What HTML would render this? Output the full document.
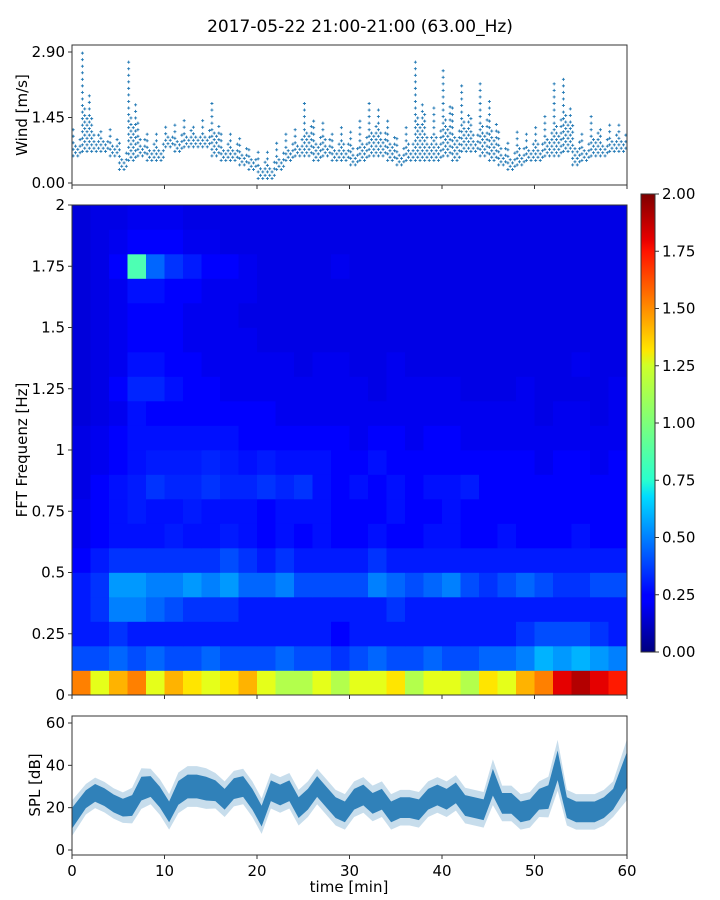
<!DOCTYPE html>
<html><head><meta charset="utf-8">
<style>
body{margin:0;background:#fff;}
svg{display:block;font-family:"DejaVu Sans","Liberation Sans",sans-serif;}
</style></head>
<body>
<svg id="c" width="720" height="900" viewBox="0 0 720 900">
<defs>
<linearGradient id="jet" x1="0" y1="1" x2="0" y2="0">
<stop offset="0" stop-color="#00007f"/><stop offset="0.11" stop-color="#0000ff"/><stop offset="0.125" stop-color="#0000ff"/>
<stop offset="0.34" stop-color="#00dcff"/><stop offset="0.375" stop-color="#29ffce"/><stop offset="0.5" stop-color="#7dff7a"/>
<stop offset="0.625" stop-color="#ceff29"/><stop offset="0.66" stop-color="#ffe500"/><stop offset="0.875" stop-color="#ff1300"/>
<stop offset="0.9" stop-color="#e80000"/><stop offset="1" stop-color="#7f0000"/>
</linearGradient>
</defs>
<text x="360" y="32" text-anchor="middle" font-size="17">2017-05-22 21:00-21:00 (63.00_Hz)</text>
<g id="g"></g>
</svg>
<script>
// ---- data ----
const windMin=[0.6,0.7,0.7,0.7,0.6,0.3,0.5,0.6,0.5,0.5,0.8,0.7,0.8,0.8,0.8,0.6,0.5,0.5,0.4,0.3,0.1,0.1,0.3,0.5,0.6,0.6,0.5,0.6,0.5,0.5,0.4,0.5,0.6,0.6,0.5,0.4,0.5,0.5,0.5,0.5,0.6,0.5,0.7,0.7,0.6,0.5,0.4,0.3,0.4,0.5,0.5,0.6,0.6,0.7,0.4,0.5,0.6,0.6,0.7,0.7];
const windMax=[1.2,2.9,1.5,1.2,1.3,0.9,2.8,1.4,1.1,1.1,1.3,1.4,1.4,1.3,1.4,1.9,1.2,1.1,1.0,0.8,0.7,0.7,1.0,1.1,1.2,1.9,1.4,1.4,1.2,1.3,1.2,1.5,1.9,1.7,1.5,1.1,1.3,2.7,1.6,1.7,2.6,1.8,2.2,1.5,2.2,1.9,1.2,1.0,1.2,1.2,1.3,1.5,2.2,2.4,1.3,1.2,1.5,1.3,1.4,1.3];
const splMean=[15,24,27,25,22,20,21,29,30,25,18,27,30,30,29,28,24,29,30,24,16,28,26,28,20,24,30,25,20,18,24,26,22,24,18,20,20,19,24,26,24,27,21,20,19,32,22,22,18,19,24,25,40,20,18,18,18,20,24,38];
const splSpread=[7,6,6,6,6,6,7,8,7,7,7,8,8,8,8,7,7,7,7,7,7,7,7,7,7,7,7,7,7,7,7,7,7,7,7,7,7,7,7,7,7,7,7,7,7,9,7,7,7,7,7,8,10,7,7,7,7,7,7,12];
const specRows=[
[1.5,1.2,1.4,1.5,1.2,1.4,1.3,1.2,1.3,1.4,1.2,1.1,1.1,1.2,1.1,1.2,1.2,1.3,1.1,1.2,1.2,1.1,1.3,1.2,1.4,1.5,1.8,1.9,1.8,1.7],
[0.4,0.4,0.45,0.4,0.45,0.4,0.4,0.45,0.4,0.4,0.4,0.45,0.4,0.4,0.35,0.4,0.45,0.4,0.4,0.45,0.4,0.4,0.45,0.45,0.5,0.6,0.55,0.6,0.55,0.5],
[0.3,0.3,0.35,0.3,0.3,0.3,0.3,0.3,0.3,0.3,0.3,0.3,0.3,0.3,0.25,0.3,0.3,0.3,0.3,0.3,0.3,0.3,0.3,0.3,0.35,0.4,0.4,0.4,0.35,0.3],
[0.3,0.35,0.5,0.5,0.45,0.4,0.35,0.35,0.35,0.3,0.3,0.3,0.3,0.3,0.3,0.3,0.3,0.35,0.3,0.3,0.3,0.3,0.3,0.3,0.3,0.3,0.3,0.3,0.3,0.3],
[0.3,0.35,0.55,0.55,0.5,0.5,0.55,0.5,0.55,0.45,0.45,0.5,0.4,0.4,0.4,0.4,0.5,0.45,0.4,0.45,0.5,0.4,0.35,0.4,0.45,0.4,0.35,0.35,0.4,0.4],
[0.25,0.3,0.35,0.35,0.35,0.35,0.35,0.35,0.4,0.35,0.3,0.35,0.3,0.3,0.3,0.3,0.35,0.3,0.3,0.3,0.3,0.3,0.3,0.3,0.3,0.3,0.3,0.3,0.3,0.3],
[0.22,0.25,0.28,0.28,0.28,0.3,0.28,0.28,0.3,0.28,0.25,0.28,0.25,0.28,0.25,0.25,0.28,0.25,0.25,0.28,0.28,0.25,0.25,0.28,0.25,0.25,0.25,0.28,0.25,0.25],
[0.22,0.25,0.28,0.3,0.28,0.28,0.3,0.28,0.28,0.28,0.25,0.28,0.28,0.28,0.25,0.25,0.25,0.28,0.25,0.25,0.28,0.25,0.25,0.25,0.25,0.25,0.25,0.25,0.25,0.25],
[0.2,0.25,0.28,0.3,0.35,0.32,0.32,0.35,0.32,0.32,0.35,0.32,0.35,0.28,0.25,0.28,0.25,0.28,0.25,0.28,0.28,0.3,0.25,0.25,0.25,0.25,0.25,0.25,0.25,0.25],
[0.2,0.22,0.25,0.28,0.3,0.3,0.3,0.32,0.3,0.28,0.3,0.28,0.28,0.28,0.25,0.25,0.28,0.25,0.25,0.25,0.25,0.25,0.25,0.25,0.25,0.22,0.25,0.25,0.22,0.25],
[0.2,0.22,0.25,0.28,0.28,0.28,0.28,0.28,0.28,0.25,0.25,0.25,0.25,0.25,0.25,0.22,0.25,0.25,0.22,0.25,0.25,0.22,0.22,0.22,0.22,0.22,0.22,0.22,0.22,0.22],
[0.18,0.2,0.22,0.28,0.25,0.25,0.25,0.25,0.25,0.25,0.25,0.22,0.22,0.22,0.22,0.22,0.22,0.22,0.22,0.22,0.22,0.22,0.22,0.22,0.22,0.2,0.22,0.22,0.2,0.22],
[0.18,0.2,0.25,0.32,0.32,0.28,0.25,0.25,0.22,0.22,0.22,0.22,0.22,0.22,0.22,0.22,0.2,0.22,0.22,0.22,0.22,0.2,0.2,0.2,0.22,0.2,0.2,0.2,0.2,0.22],
[0.18,0.2,0.22,0.28,0.28,0.25,0.25,0.22,0.22,0.22,0.22,0.22,0.2,0.22,0.22,0.2,0.2,0.22,0.2,0.2,0.2,0.2,0.2,0.2,0.2,0.2,0.2,0.22,0.2,0.2],
[0.18,0.2,0.22,0.25,0.25,0.25,0.22,0.22,0.22,0.22,0.2,0.2,0.2,0.2,0.2,0.2,0.2,0.2,0.2,0.2,0.2,0.2,0.2,0.2,0.2,0.2,0.2,0.2,0.2,0.2],
[0.18,0.2,0.22,0.25,0.25,0.25,0.22,0.22,0.22,0.2,0.2,0.2,0.2,0.2,0.2,0.2,0.2,0.2,0.2,0.2,0.2,0.2,0.2,0.2,0.2,0.2,0.2,0.2,0.2,0.2],
[0.18,0.2,0.22,0.28,0.28,0.25,0.25,0.22,0.22,0.22,0.2,0.2,0.2,0.2,0.2,0.2,0.2,0.2,0.2,0.2,0.2,0.2,0.2,0.2,0.2,0.2,0.2,0.2,0.2,0.2],
[0.18,0.2,0.25,0.9,0.45,0.35,0.3,0.25,0.25,0.22,0.2,0.2,0.2,0.2,0.22,0.2,0.2,0.2,0.2,0.2,0.2,0.2,0.2,0.2,0.2,0.2,0.2,0.2,0.2,0.2],
[0.18,0.2,0.22,0.25,0.25,0.25,0.22,0.22,0.2,0.2,0.2,0.2,0.2,0.2,0.2,0.2,0.2,0.2,0.2,0.2,0.2,0.2,0.2,0.2,0.2,0.2,0.2,0.2,0.2,0.2],
[0.18,0.2,0.2,0.22,0.22,0.22,0.2,0.2,0.2,0.2,0.2,0.2,0.2,0.2,0.2,0.2,0.2,0.2,0.2,0.2,0.2,0.2,0.2,0.2,0.2,0.2,0.2,0.2,0.2,0.2]];
const xTicks=[0,10,20,30,40,50,60];
const windTicks=["0.00","1.45","2.90"];
const freqTicks=["0","0.25","0.5","0.75","1","1.25","1.5","1.75","2"];
const cbTicks=["0.00","0.25","0.50","0.75","1.00","1.25","1.50","1.75","2.00"];
const splTicks=[0,20,40,60];

// ---- helpers ----
const NS="http://www.w3.org/2000/svg";
const G=document.getElementById('g');
function el(tag,attrs,parent){const e=document.createElementNS(NS,tag);for(const k in attrs)e.setAttribute(k,attrs[k]);(parent||G).appendChild(e);return e;}
const X0=72,X1=627;
const sx=t=>X0+(X1-X0)*t/60;
const wy=v=>183-v*(131/2.9);
const fy=f=>695-f*245;
const py=v=>850-v*(127/60);
function jet(v){const t=Math.max(0,Math.min(1,v/2));
 const c=x=>Math.max(0,Math.min(1,x));
 const r=c(1.5-Math.abs(4*t-3)),g=c(1.5-Math.abs(4*t-2)),b=c(1.5-Math.abs(4*t-1));
 return `rgb(${Math.round(r*255)},${Math.round(g*255)},${Math.round(b*255)})`;}
function txt(x,y,s,anchor,name,size){const t=el('text',{x:x,y:y,'text-anchor':anchor||'middle','font-size':size||15,fill:'#000'});t.textContent=s;
 
 
 return t;}

// ---- wind panel ----
const wind=el('g',{});


const reach=[1,0.45,0.35,0.55];
for(let m=0;m<60;m++){
 for(let s=0;s<4;s++){
  const t=m+(s+0.5)/4;
  const lo=windMin[m]+(s%2)*0.07;
  const hi=lo+(windMax[m]-lo)*reach[s];
  for(let v=lo;v<=hi+0.001;v+=0.145){
   const x=sx(t),y=wy(v);
   const p=el('path',{d:`M${x-1.5},${y}h3M${x},${y-1.5}v3`,stroke:'#1f77b4','stroke-width':0.9},wind);
   
   
  }
 }
}
const wf=el('rect',{x:X0,y:45,width:X1-X0,height:140,fill:'none',stroke:'#333','stroke-width':1});


windTicks.forEach(s=>{const y=wy(parseFloat(s));el('line',{x1:X0-4,x2:X0,y1:y,y2:y,stroke:'#333'});txt(X0-7,y+5,s,'end','wind-y-tick');});
xTicks.forEach(t=>el('line',{x1:sx(t),x2:sx(t),y1:185,y2:189,stroke:'#333'}));
const wl=txt(0,0,'Wind [m/s]','middle','wind-y-axis-title');wl.setAttribute('transform','translate(27,115) rotate(-90)');

// ---- spectrogram ----
const spec=el('g',{});


const nC=specRows[0].length, nR=specRows.length;
specRows.forEach((row,ri)=>{
 row.forEach((v,ci)=>{
  const x=sx(ci*60/nC), w=sx((ci+1)*60/nC)-x;
  const y=fy((ri+1)*2/nR), h=fy(ri*2/nR)-y;
  const r=el('rect',{x:x,y:y,width:w+0.3,height:h+0.3,fill:jet(v)},spec);
  
  
 });
});
const sf=el('rect',{x:X0,y:205,width:X1-X0,height:490,fill:'none',stroke:'#333'});


freqTicks.forEach(s=>{const y=fy(parseFloat(s));el('line',{x1:X0-4,x2:X0,y1:y,y2:y,stroke:'#333'});txt(X0-7,y+5,s,'end','freq-y-tick');});
xTicks.forEach(t=>el('line',{x1:sx(t),x2:sx(t),y1:695,y2:699,stroke:'#333'}));
const fl=txt(0,0,'FFT Frequenz [Hz]','middle','freq-y-axis-title');fl.setAttribute('transform','translate(27,450) rotate(-90)');

// ---- colorbar ----
const cb=el('rect',{x:641,y:194,width:14,height:458,fill:'url(#jet)',stroke:'#333'});


cbTicks.forEach(s=>{const y=652-parseFloat(s)/2*458;el('line',{x1:655,x2:659,y1:y,y2:y,stroke:'#333'});txt(662,y+5,s,'start','colorbar-tick');});

// ---- SPL ----
const spl=el('g',{});


function band(k,op,name){
 let up='',dn='';
 for(let m=0;m<60;m++){const t=m+0.5;up+=(m?'L':'M')+sx(m===0?0:(m===59?60:t))+','+py(splMean[m]+splSpread[m]*k);}
 for(let m=59;m>=0;m--){const t=m+0.5;dn+='L'+sx(m===0?0:(m===59?60:t))+','+py(splMean[m]-splSpread[m]*k);}
 const p=el('path',{d:up+dn+'Z',fill:'#1f77b4','fill-opacity':op},spl);
 
 
}
band(1.2,0.25,'spl-outer-band');band(0.7,0.9,'spl-inner-band');
const pf=el('rect',{x:X0,y:716,width:X1-X0,height:139,fill:'none',stroke:'#333'});


splTicks.forEach(v=>{const y=py(v);el('line',{x1:X0-4,x2:X0,y1:y,y2:y,stroke:'#333'});txt(X0-7,y+5,String(v),'end','spl-y-tick');});
xTicks.forEach(t=>{el('line',{x1:sx(t),x2:sx(t),y1:855,y2:859,stroke:'#333'});txt(sx(t),876,String(t),'middle','x-tick');});
const sl=txt(0,0,'SPL [dB]','middle','spl-y-axis-title');sl.setAttribute('transform','translate(40,785) rotate(-90)');
txt(349,892,'time [min]','middle','x-axis-title');
</script>
</body></html>
